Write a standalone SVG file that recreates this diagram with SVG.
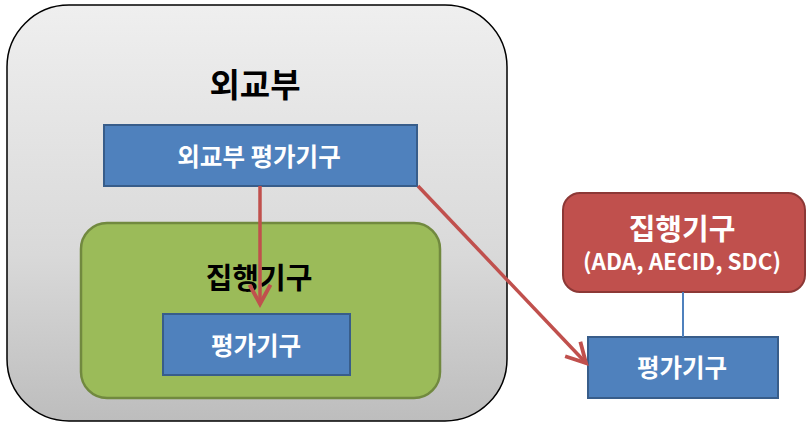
<svg xmlns="http://www.w3.org/2000/svg" width="807" height="429" viewBox="0 0 807 429">
<style>
text{font-family:"Noto Sans CJK KR","Noto Sans",sans-serif;font-weight:bold;text-anchor:middle}
.blue{fill:#4f81bd;stroke:#385d8a;stroke-width:2}
.wt{fill:#ffffff;font-size:24.5px}
.conn{fill:none;stroke:#c0504d;stroke-width:3.5}
</style>
<defs>
<linearGradient id="gray" x1="0" y1="0" x2="0" y2="1">
<stop offset="0" stop-color="#efefef"/>
<stop offset="0.6" stop-color="#d9d9d9"/>
<stop offset="1" stop-color="#bdbdbd"/>
</linearGradient>
<marker id="arr" markerWidth="8" markerHeight="8" refX="6.5" refY="4" orient="auto" markerUnits="strokeWidth" viewBox="0 0 8 8">
<path d="M1,1 L6.5,4 L1,7" fill="none" stroke="#c0504d" stroke-width="1.1"/>
</marker>
</defs>
<g id="mofa">
<rect x="7" y="5" width="500" height="416" rx="62" fill="url(#gray)" stroke="#000" stroke-width="1.5"/>
<text x="255" y="97" font-size="33" fill="#000">외교부</text>
</g>
<g id="mofa-eval">
<rect class="blue" x="104" y="125" width="313" height="61"/>
<text class="wt" x="259" y="166">외교부 평가기구</text>
</g>
<g id="agency">
<rect x="81" y="223" width="359" height="175" rx="26" fill="#9bbb59" stroke="#71893f" stroke-width="2.5"/>
<text x="259" y="289" font-size="29" fill="#000">집행기구</text>
</g>
<g id="agency-eval">
<rect class="blue" x="163" y="314" width="187" height="61"/>
<text class="wt" x="256" y="355">평가기구</text>
</g>
<g id="ext-agency">
<rect x="563" y="193" width="242" height="99" rx="17" fill="#c0504d" stroke="#8c3836" stroke-width="2"/>
<text x="682" y="240" font-size="29" fill="#fff">집행기구</text>
<text x="682" y="270" font-size="22.5" fill="#fff">(ADA, AECID, SDC)</text>
</g>
<g id="ext-eval">
<rect class="blue" x="588" y="337" width="190" height="61"/>
<text class="wt" x="682" y="377">평가기구</text>
</g>
<g id="connectors">
<line class="conn" x1="260" y1="186" x2="260" y2="304" marker-end="url(#arr)"/>
<line class="conn" x1="418" y1="186" x2="586" y2="363" marker-end="url(#arr)"/>
<line x1="683" y1="292" x2="683" y2="337" stroke="#4f81bd" stroke-width="2"/>
</g>
</svg>
